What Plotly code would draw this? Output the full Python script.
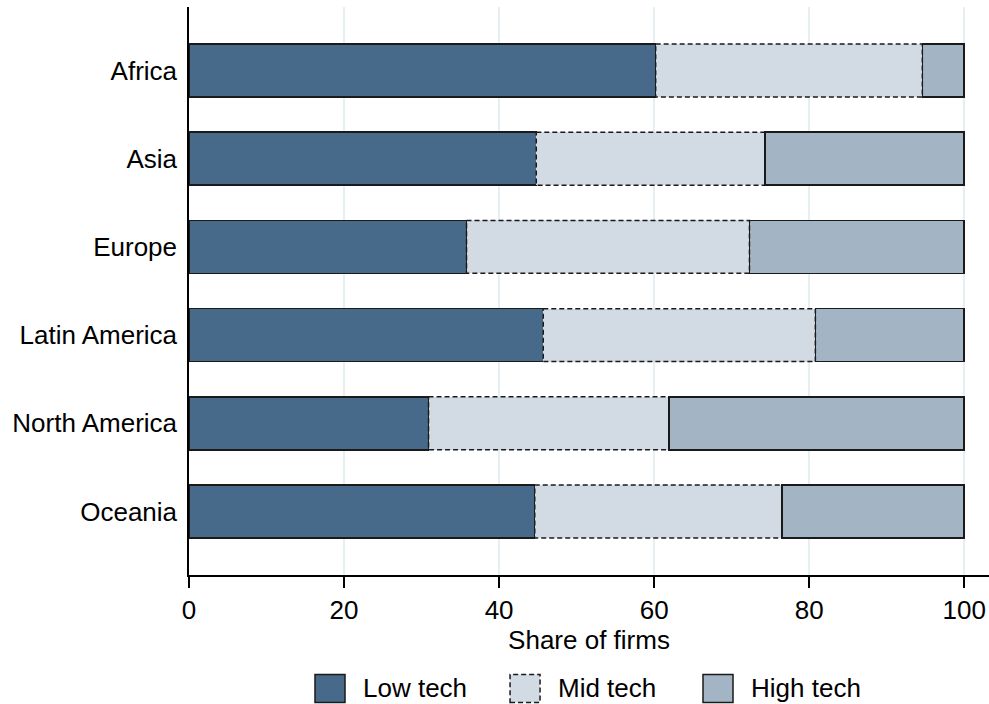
import plotly.graph_objects as go

regions = ["Africa", "Asia", "Europe", "Latin America", "North America", "Oceania"]
low_tech = [60.2, 44.8, 35.8, 45.7, 30.9, 44.6]
mid_tech = [34.4, 29.5, 36.5, 35.1, 31.0, 31.9]
high_tech = [round(100 - a - b, 1) for a, b in zip(low_tech, mid_tech)]
series_names = ["Low tech", "Mid tech", "High tech"]
x_ticks = [0, 20, 40, 60, 80, 100]

C_LOW = "#486a8a"
C_MID = "#d2dae3"
C_HIGH = "#a3b4c4"
EDGE = "#1a1a1a"
FONT = "Liberation Sans, Arial, Helvetica, sans-serif"
FS = 26
BAR_W = 0.6
DASH = "5px,3px"

y_idx = list(range(len(regions)))

fig = go.Figure()
fig.add_trace(go.Bar(y=y_idx, x=low_tech, orientation="h", width=BAR_W,
                     marker=dict(color=C_LOW, line=dict(color=EDGE, width=1.5)),
                     name=series_names[0], showlegend=False))
fig.add_trace(go.Bar(y=y_idx, x=mid_tech, orientation="h", width=BAR_W,
                     marker=dict(color=C_MID, line=dict(color=C_MID, width=0)),
                     name=series_names[1], showlegend=False))
fig.add_trace(go.Bar(y=y_idx, x=high_tech, orientation="h", width=BAR_W,
                     marker=dict(color=C_HIGH, line=dict(color=EDGE, width=1.5)),
                     name=series_names[2], showlegend=False))

# dashed outline around each mid-tech segment
for i, (a, b) in enumerate(zip(low_tech, mid_tech)):
    fig.add_shape(type="rect", xref="x", yref="y",
                  x0=a, x1=a + b, y0=i - BAR_W / 2, y1=i + BAR_W / 2,
                  line=dict(color=EDGE, width=1.5, dash=DASH),
                  fillcolor="rgba(0,0,0,0)", layer="above")

# legend row drawn below the plot
legend_items = [
    (series_names[0], C_LOW, "solid", 0.1575),
    (series_names[1], C_MID, DASH, 0.4013),
    (series_names[2], C_HIGH, "solid", 0.6425),
]
for name, color, dash, x0 in legend_items:
    fig.add_shape(type="rect", xref="paper", yref="paper",
                  x0=x0, x1=x0 + 0.0375, y0=-0.2245, y1=-0.175,
                  line=dict(color=EDGE, width=1.5, dash=dash), fillcolor=color)
    fig.add_annotation(xref="paper", yref="paper", x=x0 + 0.0575, y=-0.1995,
                       text=name, showarrow=False, xanchor="left", yanchor="middle",
                       font=dict(size=FS, color="#000", family=FONT))

fig.update_layout(
    barmode="stack",
    width=989, height=704,
    margin=dict(l=189, r=0, t=7, b=129),
    paper_bgcolor="white", plot_bgcolor="white",
    font=dict(family=FONT, size=FS, color="#000"),
    bargap=0.4,
)
fig.update_xaxes(
    range=[0, 103.2], tickvals=x_ticks, ticktext=[str(t) for t in x_ticks],
    showgrid=True, gridcolor="#e6eff1", gridwidth=1.5, zeroline=False,
    showline=True, linecolor="#000", linewidth=1.5,
    ticks="outside", ticklen=11, tickwidth=1.5, tickcolor="#000",
    tickfont=dict(size=FS),
    title=dict(text="Share of firms", font=dict(size=FS), standoff=2),
)
fig.update_yaxes(
    range=[5.72, -0.72], tickvals=y_idx, ticktext=regions,
    showgrid=False, zeroline=False,
    showline=True, linecolor="#000", linewidth=1.5,
    ticks="outside", ticklen=5, tickcolor="rgba(0,0,0,0)",
    tickfont=dict(size=FS),
)

fig.write_html("out.html")
